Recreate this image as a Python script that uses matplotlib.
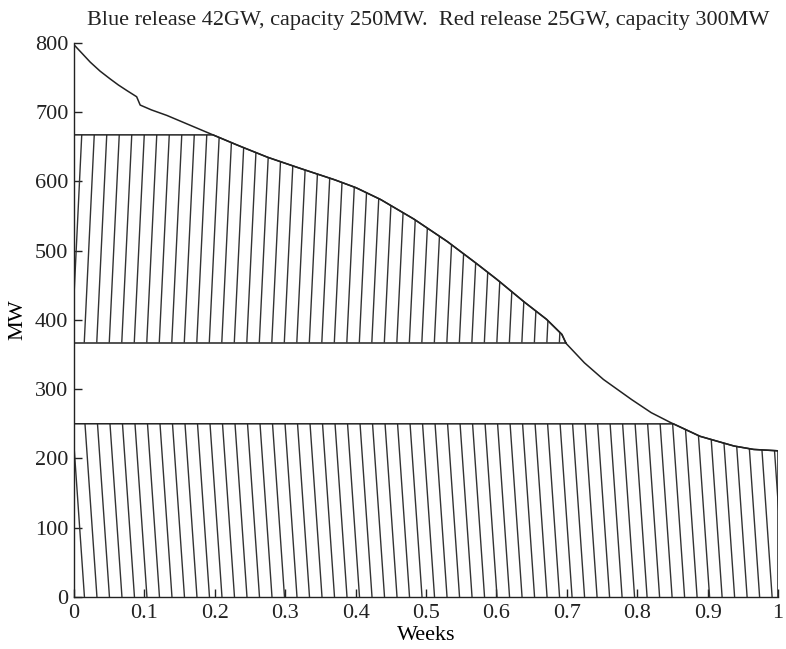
import numpy as np
import matplotlib
matplotlib.use("Agg")
import matplotlib.pyplot as plt
from matplotlib.patches import Polygon
from matplotlib.collections import LineCollection

# ---- data ----
weeks = [0.0, 0.012, 0.023, 0.037, 0.051, 0.063, 0.075, 0.089, 0.094, 0.110, 0.132,
         0.188, 0.230, 0.274, 0.320, 0.368, 0.400, 0.435, 0.482, 0.529, 0.567,
         0.600, 0.638, 0.671, 0.693, 0.699, 0.725, 0.752, 0.792, 0.820, 0.847,
         0.889, 0.937, 0.965, 1.0]
load_mw = [797, 784, 772, 759, 748, 739, 731, 722, 710, 703, 695,
           671, 653, 635, 619, 603, 591, 574, 546, 514, 485,
           459, 427, 401, 379, 366, 338, 314, 285, 266, 252,
           232, 218, 213, 211]
blue_capacity = 250      # MW, bottom band 0..250
red_low, red_high = 367, 667   # MW, upper band
title = "Blue release 42GW, capacity 250MW.  Red release 25GW, capacity 300MW"
xticks = [0, 0.1, 0.2, 0.3, 0.4, 0.5, 0.6, 0.7, 0.8, 0.9, 1]
xticklabels = ["0", "0.1", "0.2", "0.3", "0.4", "0.5", "0.6", "0.7", "0.8", "0.9", "1"]
yticks = [0, 100, 200, 300, 400, 500, 600, 700, 800]

plt.rcParams['font.family'] = ['Liberation Serif', 'DejaVu Serif']
FS = 16

fig = plt.figure(figsize=(7.86, 6.49), dpi=100)
ax = fig.add_axes([74/786, 1 - 597/649, 704/786, (597 - 42.7)/649])
ax.set_xlim(0, 1)
ax.set_ylim(0, 800)

x = np.array(weeks, float)
y = np.array(load_mw, float)
xf = np.linspace(0, 1, 2001)
yf = np.interp(xf, x, y)

LC = '#222222'
# demand curve
ax.plot(x, y, color=LC, lw=1.1, zorder=3)

# ---- bottom band: 0 .. min(250, curve) ----
yb = np.minimum(yf, blue_capacity)
poly_b = np.vstack([np.column_stack([xf, yb]), [[1, 0], [0, 0]]])
clip_b = Polygon(poly_b, closed=True, transform=ax.transData, fill=False, lw=0)
ax.add_patch(clip_b)
ax.plot(xf, yb, color=LC, lw=1.1, zorder=3)
ax.plot([1, 1], [0, yf[-1]], color=LC, lw=1.1, zorder=3)

sp = 0.01776
tops = np.arange(0.0156 - 2 * sp, 1.05, sp)
segs = [[(t, blue_capacity), (t + 0.017, 0)] for t in tops]
lc = LineCollection(segs, colors='#333333', linewidths=1.0, zorder=2)
ax.add_collection(lc)
lc.set_clip_path(clip_b)

# ---- upper band: 367 .. min(667, curve) ----
mask = yf >= red_low
xu = xf[mask]
yu = np.minimum(yf[mask], red_high)
poly_u = np.vstack([np.column_stack([xu, yu]), [[xu[-1], red_low], [0, red_low]]])
clip_u = Polygon(poly_u, closed=True, transform=ax.transData, fill=False, lw=0)
ax.add_patch(clip_u)
ax.plot(xu, yu, color=LC, lw=1.1, zorder=3)
ax.plot([0, xu[-1]], [red_low, red_low], color=LC, lw=1.1, zorder=3)

tops_u = np.arange(0.011 - 2 * sp, 0.75, sp)
segs_u = [[(t, red_high), (t - 0.0142, red_low)] for t in tops_u]
lcu = LineCollection(segs_u, colors='#333333', linewidths=1.0, zorder=2)
ax.add_collection(lcu)
lcu.set_clip_path(clip_u)

# ---- axes styling ----
for s in ['top', 'right']:
    ax.spines[s].set_visible(False)
for s in ['left', 'bottom']:
    ax.spines[s].set_linewidth(1.0)
    ax.spines[s].set_color(LC)
ax.set_xticks(xticks)
ax.set_xticklabels(xticklabels)
ax.set_yticks(yticks)
ax.tick_params(direction='in', length=6, width=1.0, labelsize=FS, colors=LC)
ax.tick_params(axis='x', pad=5)
ax.tick_params(axis='y', pad=4)
ax.set_xlabel("Weeks", fontsize=FS)
ax.xaxis.set_label_coords(0.5, -(635 - 597) / (597 - 42.7), transform=ax.transAxes)
ax.set_ylabel("MW", fontsize=FS)
ax.yaxis.set_label_coords(-(74 - 18) / 704, (597 - 320) / (597 - 42.7), transform=ax.transAxes)
ax.xaxis.label.set_va('center')
ax.yaxis.label.set_va('center')
fig.text(428 / 786, 1 - 20 / 649, title, fontsize=FS, ha='center', va='center', color=LC)

fig.savefig("out.png", dpi=100)
